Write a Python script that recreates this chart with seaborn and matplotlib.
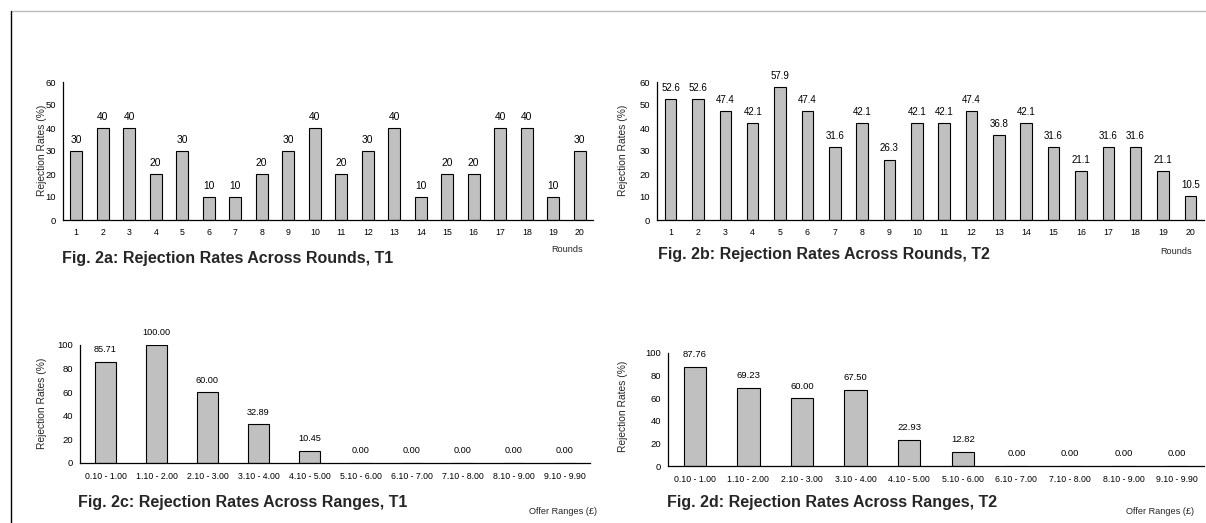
import numpy as np
import pandas as pd
import matplotlib
matplotlib.use("Agg")
import matplotlib.pyplot as plt
from matplotlib.lines import Line2D
import seaborn as sns

# ---------------- data ----------------
rounds = [str(i) for i in range(1, 21)]
t1_rounds = [30, 40, 40, 20, 30, 10, 10, 20, 30, 40, 20, 30, 40, 10, 20, 20, 40, 40, 10, 30]
t2_rounds = [52.6, 52.6, 47.4, 42.1, 57.9, 47.4, 31.6, 42.1, 26.3, 42.1,
             42.1, 47.4, 36.8, 42.1, 31.6, 21.1, 31.6, 31.6, 21.1, 10.5]
ranges = ["0.10 - 1.00", "1.10 - 2.00", "2.10 - 3.00", "3.10 - 4.00", "4.10 - 5.00",
          "5.10 - 6.00", "6.10 - 7.00", "7.10 - 8.00", "8.10 - 9.00", "9.10 - 9.90"]
t1_ranges = [85.71, 100.00, 60.00, 32.89, 10.45, 0.00, 0.00, 0.00, 0.00, 0.00]
t2_ranges = [87.76, 69.23, 60.00, 67.50, 22.93, 12.82, 0.00, 0.00, 0.00, 0.00]

captions = ["Fig. 2a: Rejection Rates Across Rounds, T1",
            "Fig. 2b: Rejection Rates Across Rounds, T2",
            "Fig. 2c: Rejection Rates Across Ranges, T1",
            "Fig. 2d: Rejection Rates Across Ranges, T2"]
ylabel_text = "Rejection Rates (%)"
xlabel_rounds = "Rounds"
xlabel_ranges = "Offer Ranges (\u00a3)"

# ---------------- style ----------------
sns.set_style("white")
plt.rcParams["font.family"] = ["Liberation Sans", "DejaVu Sans"]

W, H = 1206, 523
fig = plt.figure(figsize=(W / 100, H / 100), dpi=100)
fig.patch.set_facecolor("white")


def px_axes(left, right, top, bottom):
    return fig.add_axes([left / W, 1 - bottom / H, (right - left) / W, (bottom - top) / H])


def fig_text(x, y, s, **kw):
    fig.text(x / W, 1 - y / H, s, **kw)


BAR = "#c0c0c0"


def panel(ax, cats, vals, ymax, ystep, fmt, bw, label_fs, label_pad, xpad):
    df = pd.DataFrame({"cat": cats, "val": vals})
    sns.barplot(data=df, x="cat", y="val", order=cats, color=BAR, saturation=1,
                edgecolor="black", linewidth=0.8, width=bw, errorbar=None, ax=ax)
    n = len(cats)
    ax.set_xlim(-0.5, n - 0.5)
    ax.set_ylim(0, ymax)
    ax.set_yticks(np.arange(0, ymax + 1, ystep))
    ax.set_xticks(np.arange(-0.5, n, 1.0), minor=True)
    ax.set_xlabel("")
    ax.set_ylabel("")
    for s in ["top", "right"]:
        ax.spines[s].set_visible(False)
    for s in ["left", "bottom"]:
        ax.spines[s].set_color("black")
        ax.spines[s].set_linewidth(0.9)
    ax.tick_params(axis="x", which="major", length=0, pad=xpad, labelsize=6.3, colors="black")
    ax.tick_params(axis="x", which="minor", direction="inout", length=5, width=0.8, color="black")
    ax.tick_params(axis="y", which="major", direction="out", length=2.5, width=0.8,
                   pad=2.5, labelsize=6.8, colors="black")
    ax.bar_label(ax.containers[0], fmt=fmt, padding=label_pad, fontsize=label_fs,
                 color="black", clip_on=False)
    ax.set_facecolor("none")


ax_a = px_axes(63, 593, 82, 220)
panel(ax_a, rounds, t1_rounds, 60, 10, "%.0f", 0.46, 7.4, 4.5, 6)

ax_b = px_axes(657, 1204, 82, 220)
panel(ax_b, rounds, t2_rounds, 60, 10, "%.1f", 0.42, 7.0, 4.5, 6)

ax_c = px_axes(80, 590, 345, 463)
panel(ax_c, ranges, t1_ranges, 100, 20, "%.2f", 0.40, 6.6, 5.5, 6.5)

ax_d = px_axes(668, 1204, 353, 466)
panel(ax_d, ranges, t2_ranges, 100, 20, "%.2f", 0.42, 6.8, 5.5, 6.5)

# y labels
for (x, y) in [(42, 150), (623, 150), (42, 403), (623, 406)]:
    fig_text(x, y, ylabel_text, rotation=90, ha="center", va="center", fontsize=7.4)

# captions
for (x, y, s) in [(62, 259, captions[0]), (658, 255, captions[1]),
                  (78, 503, captions[2]), (667, 503, captions[3])]:
    fig_text(x, y, s, ha="left", va="center", fontsize=11.5, fontweight="bold")

# axis titles
fig_text(567, 249, xlabel_rounds, ha="center", va="center", fontsize=6.6)
fig_text(1176, 252, xlabel_rounds, ha="center", va="center", fontsize=6.6)
fig_text(563, 511, xlabel_ranges, ha="center", va="center", fontsize=6.6)
fig_text(1160, 512, xlabel_ranges, ha="center", va="center", fontsize=6.6)

# page frame lines
fig.add_artist(Line2D([11 / W, 1.0], [1 - 10.5 / H, 1 - 10.5 / H],
                      transform=fig.transFigure, color="#bdbdbd", linewidth=1.0))
fig.add_artist(Line2D([11 / W, 11 / W], [1 - 10.5 / H, 0.0],
                      transform=fig.transFigure, color="black", linewidth=1.0))

fig.savefig("out.png", dpi=100)
